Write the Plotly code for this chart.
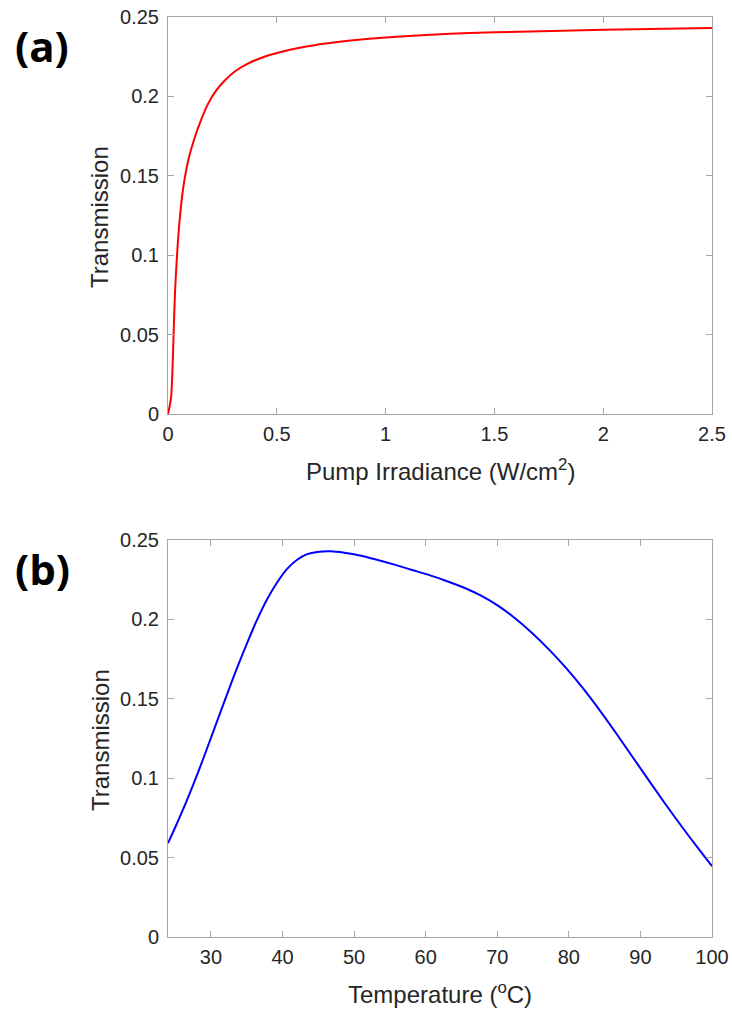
import plotly.graph_objects as go

# Panel (a): transmission vs pump irradiance (W/cm^2)
irradiance = [0.0, 0.0138, 0.0245, 0.032, 0.043, 0.055, 0.0706, 0.0935, 0.124, 0.15, 0.185,
              0.22, 0.262, 0.31, 0.369, 0.44, 0.523, 0.6, 0.68, 0.76, 0.85, 1.0, 1.25, 1.5,
              2.0, 2.5]
trans_a = [0.0, 0.0101, 0.0446, 0.076, 0.1033, 0.1243, 0.1431, 0.160, 0.1746, 0.1845, 0.1956,
           0.2035, 0.2102, 0.216, 0.2208, 0.2248, 0.2281, 0.2305, 0.2324, 0.2339, 0.2353, 0.2371,
           0.2392, 0.2404, 0.2419, 0.2431]

# Panel (b): transmission vs temperature (degC)
temperature = [24.0, 25.17, 26.58, 27.98, 29.39, 30.8, 32.2, 33.61, 35.02, 36.42, 37.83, 39.24,
               40.64, 42.05, 43.45, 44.86, 46.74, 48.61, 50.96, 53.3, 55.64, 57.99, 60.33, 62.7,
               65.46, 67.8, 70.14, 72.48, 74.82, 77.17, 79.51, 81.85, 84.19, 86.53, 88.88, 91.22,
               93.56, 95.9, 98.24, 100.0]
trans_b = [0.0591, 0.0707, 0.0854, 0.1011, 0.1179, 0.1352, 0.1522, 0.169, 0.1848, 0.1995, 0.2125,
           0.2232, 0.2318, 0.2376, 0.2411, 0.2425, 0.2429, 0.242, 0.2401, 0.2374, 0.2345, 0.2313,
           0.2282, 0.2245, 0.2198, 0.2148, 0.2085, 0.2007, 0.1916, 0.1813, 0.1699, 0.1573, 0.1435,
           0.1288, 0.1135, 0.0983, 0.0833, 0.0688, 0.0548, 0.0446]

y_ticks = [0, 0.05, 0.1, 0.15, 0.2, 0.25]
y_ticktext = ["0", "0.05", "0.1", "0.15", "0.2", "0.25"]
xa_ticks = [0, 0.5, 1, 1.5, 2, 2.5]
xa_ticktext = ["0", "0.5", "1", "1.5", "2", "2.5"]
xb_ticks = [30, 40, 50, 60, 70, 80, 90, 100]
xb_ticktext = ["30", "40", "50", "60", "70", "80", "90", "100"]

W, H = 732, 1014
x0, x1 = 168, 712
top_a, bot_a = 17, 414
top_b, bot_b = 540, 937

fig = go.Figure()
fig.add_trace(go.Scatter(x=irradiance, y=trans_a, mode="lines",
                         line=dict(color="#ff0000", width=2, shape="spline", smoothing=0.8),
                         xaxis="x", yaxis="y", showlegend=False))
fig.add_trace(go.Scatter(x=temperature, y=trans_b, mode="lines",
                         line=dict(color="#0000ff", width=2, shape="spline", smoothing=1.0),
                         xaxis="x2", yaxis="y2", showlegend=False))

tickfont = dict(family="Liberation Sans, Arial, sans-serif", size=20, color="#262626")
axcommon = dict(showline=True, linecolor="#a6a6a6", linewidth=1, mirror="ticks", ticks="inside",
                ticklen=6, tickcolor="#a6a6a6", showgrid=False, zeroline=False, tickfont=tickfont,
                fixedrange=True, automargin=False)

fig.update_layout(
    width=W, height=H, margin=dict(l=0, r=0, t=0, b=0, autoexpand=False),
    paper_bgcolor="white", plot_bgcolor="white",
    xaxis=dict(domain=[x0 / W, x1 / W], range=[0, 2.5], tickvals=xa_ticks, ticktext=xa_ticktext,
               anchor="y", ticklabelstandoff=2, **axcommon),
    yaxis=dict(domain=[1 - bot_a / H, 1 - top_a / H], range=[0, 0.25], tickvals=y_ticks,
               ticktext=y_ticktext, anchor="x", ticklabelstandoff=4, **axcommon),
    xaxis2=dict(domain=[x0 / W, x1 / W], range=[24, 100], tickvals=xb_ticks, ticktext=xb_ticktext,
                anchor="y2", ticklabelstandoff=2, **axcommon),
    yaxis2=dict(domain=[1 - bot_b / H, 1 - top_b / H], range=[0, 0.25], tickvals=y_ticks,
                ticktext=y_ticktext, anchor="x2", ticklabelstandoff=4, **axcommon),
)

titlefont = dict(family="Liberation Sans, Arial, sans-serif", size=24, color="#262626")
labelfont = dict(family="Open Sans, sans-serif", size=42, color="#000000")
ann = [
    dict(text="Pump Irradiance (W/cm<sup>2</sup>)", x=(x0 + x1) / 2 / W, y=1 - 470 / H,
         font=titlefont),
    dict(text="Temperature (<sup>o</sup>C)", x=(x0 + x1) / 2 / W, y=1 - 993 / H, font=titlefont),
    dict(text="Transmission", x=100 / W, y=1 - 217 / H, textangle=-90, font=titlefont),
    dict(text="Transmission", x=100 / W, y=1 - 740 / H, textangle=-90, font=titlefont),
    dict(text="<b>(a)</b>", x=42 / W, y=1 - 45 / H, font=labelfont),
    dict(text="<b>(b)</b>", x=42 / W, y=1 - 568 / H, font=labelfont),
]
for a in ann:
    a.update(xref="paper", yref="paper", showarrow=False, xanchor="center", yanchor="middle")
    fig.add_annotation(**a)

fig.write_html("out.html")
